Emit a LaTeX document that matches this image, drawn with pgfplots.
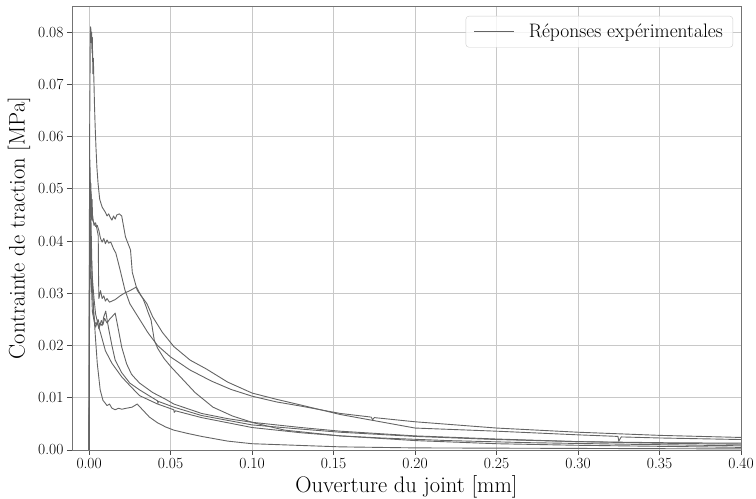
\documentclass[border=0pt]{standalone}
\usepackage{pgfplots}
\pgfplotsset{compat=1.18}
\definecolor{curve}{RGB}{100,100,100}
\definecolor{gridc}{RGB}{200,200,200}
\begin{document}
\begin{tikzpicture}
\begin{axis}[
  width=669pt, height=444pt, scale only axis,
  xmin=-0.0105, xmax=0.40, ymin=0, ymax=0.085,
  xtick={0,0.05,0.1,0.15,0.2,0.25,0.3,0.35,0.4},
  ytick={0,0.01,0.02,0.03,0.04,0.05,0.06,0.07,0.08},
  scaled x ticks=false, scaled y ticks=false,
  /pgf/number format/fixed, /pgf/number format/fixed zerofill,
  /pgf/number format/precision=2, /pgf/number format/assume math mode=true,
  tick label style={font=\fontsize{15.5}{18}\selectfont},
  xlabel={Ouverture du joint [mm]},
  ylabel={Contrainte de traction [MPa]},
  every axis x label/.style={at={(rel axis cs:0.5,0)}, yshift=-37pt, anchor=center, font=\fontsize{22.5}{26}\selectfont},
  every axis y label/.style={at={(rel axis cs:0,0.5)}, xshift=-53pt, rotate=90, anchor=center, font=\fontsize{22.5}{26}\selectfont},
  grid=major, major grid style={gridc, line width=0.8pt},
  axis line style={black!55, line width=0.8pt},
  tick style={black!70, line width=0.8pt},
  tick align=outside, major tick length=5pt,
  xtick pos=bottom, ytick pos=left,
  legend style={at={(1,1)}, anchor=north east, xshift=-8pt, yshift=-10pt,
    fill=white, fill opacity=0.8, text opacity=1, draw=black!20,
    rounded corners=3pt, font=\fontsize{19.5}{21}\selectfont,
    inner xsep=8pt, inner ysep=6pt},
  legend cell align=left,
  legend image code/.code={\draw[#1] (0pt,0pt) -- (40pt,0pt);},
  mycurve/.style={curve, line width=0.9pt, line join=round, no markers, solid},
]
% A
\addplot[mycurve] coordinates {
(0,0) (0.0001,0.030) (0.0003,0.060) (0.0005,0.068) (0.0007,0.079) (0.0009,0.081)
(0.0011,0.0805) (0.0013,0.078) (0.0015,0.080) (0.0018,0.076) (0.0020,0.079)
(0.0023,0.072) (0.0026,0.075) (0.0030,0.070) (0.0033,0.066) (0.0037,0.062)
(0.0042,0.058) (0.0048,0.054) (0.0055,0.051) (0.0065,0.048) (0.0080,0.0465)
(0.0100,0.0455) (0.0110,0.0448) (0.0120,0.0452) (0.0130,0.0445) (0.0140,0.0440)
(0.0150,0.0448) (0.0160,0.0442) (0.0170,0.0450) (0.0185,0.0452) (0.0200,0.0448)
(0.0223,0.0408) (0.0254,0.0383) (0.0265,0.0340) (0.0295,0.0306) (0.0330,0.0290)
(0.0348,0.0276) (0.0360,0.0265) (0.0380,0.0249) (0.0400,0.0210) (0.0420,0.0195)
(0.0460,0.0175) (0.0500,0.0160) (0.0560,0.0140) (0.0650,0.0110) (0.0760,0.0082)
(0.0880,0.0065) (0.1010,0.0052) (0.1200,0.0038) (0.1540,0.0027) (0.1790,0.0023)
(0.2200,0.0018) (0.2700,0.0014) (0.3300,0.0011) (0.4000,0.0008)
};
\addlegendentry{\hspace{12pt}Réponses expérimentales}
% B
\addplot[mycurve] coordinates {
(0,0) (0.0002,0.030) (0.0005,0.053) (0.0008,0.048) (0.0011,0.051) (0.0014,0.046)
(0.0018,0.048) (0.0022,0.044) (0.0030,0.0435) (0.0040,0.0428) (0.0050,0.0430)
(0.0060,0.0420) (0.0070,0.0405) (0.0080,0.0398) (0.0090,0.0405) (0.0100,0.0395)
(0.0110,0.0402) (0.0120,0.0396) (0.0133,0.0398) (0.0150,0.0385) (0.0164,0.0377)
(0.0190,0.0345) (0.0220,0.0306) (0.0250,0.0280) (0.0310,0.0250) (0.0360,0.0225)
(0.0420,0.0200) (0.0500,0.0178) (0.0620,0.0153) (0.0750,0.0132) (0.0870,0.0116)
(0.1000,0.0103) (0.1150,0.0092) (0.1300,0.0084) (0.1540,0.0070) (0.1730,0.0063)
(0.1740,0.0058) (0.1750,0.0062) (0.2000,0.0054) (0.2500,0.0042) (0.3000,0.0034)
(0.3500,0.0028) (0.4000,0.0024)
};
% C
\addplot[mycurve] coordinates {
(0,0) (0.0002,0.035) (0.0005,0.050) (0.0008,0.046) (0.0012,0.049) (0.0016,0.044)
(0.0020,0.045) (0.0030,0.043) (0.0040,0.0435) (0.0050,0.042) (0.0056,0.041)
(0.0058,0.033) (0.0060,0.029) (0.0070,0.0305) (0.0080,0.029) (0.0090,0.0295)
(0.0100,0.0285) (0.0110,0.0290) (0.0125,0.0283) (0.0140,0.0285) (0.0160,0.0288)
(0.0190,0.0295) (0.0215,0.0300) (0.0250,0.0305) (0.0290,0.0312) (0.0320,0.0295)
(0.0355,0.0280) (0.0390,0.0255) (0.0450,0.0225) (0.0520,0.0198) (0.0620,0.0172)
(0.0720,0.0155) (0.0850,0.0130) (0.1000,0.0109) (0.1150,0.0097) (0.1300,0.0086)
(0.1540,0.0068) (0.2000,0.0042) (0.2500,0.0036) (0.3000,0.0029) (0.3245,0.0026)
(0.3250,0.0017) (0.3265,0.0025) (0.3500,0.0023) (0.4000,0.0020)
};
% D
\addplot[mycurve] coordinates {
(0,0) (0.0002,0.030) (0.0005,0.0555) (0.0008,0.050) (0.0011,0.045) (0.0014,0.040)
(0.0018,0.034) (0.0023,0.029) (0.0028,0.026) (0.0035,0.0245) (0.0045,0.0240)
(0.0055,0.0250) (0.0065,0.0238) (0.0075,0.0248) (0.0085,0.0240) (0.0095,0.0252)
(0.0110,0.0243) (0.0125,0.0250) (0.0140,0.0255) (0.0160,0.0262) (0.0180,0.0230)
(0.0200,0.0197) (0.0230,0.0165) (0.0260,0.0145) (0.0280,0.0138) (0.0310,0.0128)
(0.0390,0.0110) (0.0470,0.0097) (0.0520,0.0088) (0.0690,0.0070) (0.0850,0.0060)
(0.1000,0.0053) (0.1300,0.0043) (0.1540,0.0036) (0.2000,0.0027) (0.2500,0.0021)
(0.3000,0.0016) (0.3500,0.0013) (0.4000,0.0011)
};
% E
\addplot[mycurve] coordinates {
(0,0) (0.0002,0.025) (0.0004,0.040) (0.0006,0.035) (0.0009,0.042) (0.0012,0.034)
(0.0016,0.030) (0.0020,0.0265) (0.0030,0.0248) (0.0040,0.0235) (0.0050,0.0245)
(0.0060,0.0232) (0.0070,0.0242) (0.0080,0.0238) (0.0090,0.0255) (0.0102,0.0266)
(0.0110,0.0250) (0.0120,0.0232) (0.0140,0.0200) (0.0160,0.0172) (0.0200,0.0148)
(0.0250,0.0128) (0.0310,0.0115) (0.0420,0.0094) (0.0422,0.0089) (0.0425,0.0093)
(0.0520,0.0082) (0.0690,0.0066) (0.1000,0.0048) (0.1300,0.0040) (0.1540,0.0034)
(0.2000,0.0026) (0.2500,0.0020) (0.3000,0.0016) (0.3500,0.0014) (0.4000,0.0013)
};
% G
\addplot[mycurve] coordinates {
(0,0) (0.0002,0.025) (0.0005,0.048) (0.0008,0.043) (0.0012,0.038) (0.0020,0.033)
(0.0030,0.029) (0.0040,0.026) (0.0055,0.0240) (0.0070,0.0224) (0.0100,0.0190)
(0.0140,0.0166) (0.0200,0.0140) (0.0260,0.0120) (0.0310,0.0104) (0.0420,0.0088)
(0.0520,0.0077) (0.0522,0.0072) (0.0530,0.0075) (0.0690,0.0062) (0.1000,0.0043)
(0.1300,0.0033) (0.1540,0.0027) (0.2000,0.0018) (0.2500,0.0012) (0.3000,0.0009)
(0.3500,0.0007) (0.4000,0.0005)
};
% F
\addplot[mycurve] coordinates {
(0,0) (0.0002,0.020) (0.0005,0.035) (0.0010,0.033) (0.0018,0.0325) (0.0029,0.0262)
(0.0040,0.021) (0.0050,0.0166) (0.0068,0.0115) (0.0085,0.0095) (0.0098,0.0090)
(0.0110,0.0085) (0.0125,0.0088) (0.0140,0.0080) (0.0160,0.0077) (0.0180,0.0080)
(0.0200,0.0078) (0.0230,0.0080) (0.0264,0.0082) (0.0295,0.0088) (0.0310,0.0083)
(0.0340,0.0073) (0.0370,0.0063) (0.0420,0.0052) (0.0470,0.0044) (0.0520,0.0038)
(0.0600,0.0032) (0.0690,0.0026) (0.0850,0.0017) (0.1000,0.0012) (0.1540,0.0006)
(0.2000,0.0004) (0.3000,0.0003) (0.4000,0.0002)
};
\end{axis}
\pgfresetboundingbox
\path ([xshift=-72pt,yshift=-49pt]current axis.south west) rectangle ([xshift=15pt,yshift=6pt]current axis.north east);
\end{tikzpicture}
\end{document}
